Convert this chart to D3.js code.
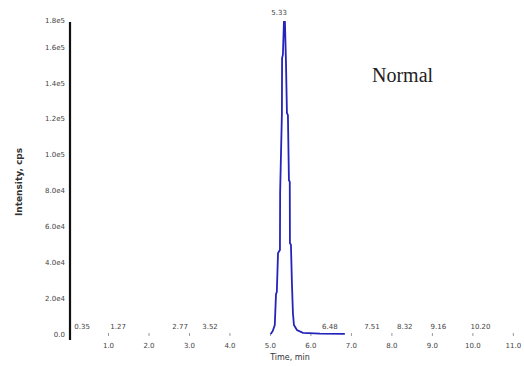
<!DOCTYPE html>
<html lang="en">
  <head>
    <meta charset="utf-8">
<style>
body { margin: 0; background: #fff; }
svg text { font-family: "DejaVu Sans", sans-serif; fill: #444; }
.tick text { font-size: 7px; }
.peaklab { font-size: 7px; }
</style>
</head>
<body>
<script src="https://d3js.org/d3.v7.min.js"></script>
<svg id="chart" width="524" height="366"></svg>
<script>
// chromatogram trace (time in min, intensity in cps)
var times = [5.02, 5.07, 5.12, 5.15, 5.17, 5.20, 5.247, 5.252, 5.296, 5.300, 5.32, 5.346, 5.37,
             5.395, 5.42, 5.444, 5.469, 5.49, 5.494, 5.519, 5.543, 5.568, 5.593, 5.667, 5.815, 6.235, 6.85];
var intensity = [0, 1700, 5000, 22300, 23400, 45100, 46800, 79100, 123200, 153800, 155500, 173900, 173900,
                 152700, 123200, 122000, 85800, 84700, 50700, 49600, 28400, 11700, 5000, 2200, 600, 200, 100];

var yTicks = [0, 2e4, 4e4, 6e4, 8e4, 1e5, 1.2e5, 1.4e5, 1.6e5, 1.75e5];
var yTickLabels = ["0.0", "2.0e4", "4.0e4", "6.0e4", "8.0e4", "1.0e5", "1.2e5", "1.4e5", "1.6e5", "1.8e5"];
var xTicks = [1, 2, 3, 4, 5, 6, 7, 8, 9, 10, 11];

// retention time labels along the baseline
var peakTimes = [0.36, 1.25, 2.78, 3.52, 6.48, 7.52, 8.33, 9.16, 10.20];
var peakLabels = ["0.35", "1.27", "2.77", "3.52", "6.48", "7.51", "8.32", "9.16", "10.20"];
var apexTime = 5.35, apexLabel = "5.33";

var svg = d3.select("#chart");

var x = d3.scaleLinear().domain([0, 11.3]).range([67.5, 525]);
var y = d3.scaleLinear().domain([0, 1.75e5]).range([334, 20]);

// y axis
var yAxis = svg.append("g")
    .attr("transform", "translate(70,0)")
    .call(d3.axisLeft(y).tickValues(yTicks).tickSize(0).tickPadding(5)
      .tickFormat(function(d, i) { return yTickLabels[i]; }));
yAxis.select(".domain").remove();

svg.append("line")
    .attr("x1", 70).attr("x2", 70)
    .attr("y1", y.range()[1] + 2).attr("y2", y(0) + 6)
    .attr("stroke", "#111").attr("stroke-width", 2.2);

// x axis (no baseline line, just ticks and labels)
var xAxis = svg.append("g")
    .attr("transform", "translate(0," + (y(0) - 1) + ")")
    .call(d3.axisBottom(x).tickValues(xTicks).tickSize(3).tickPadding(7)
      .tickFormat(d3.format(".1f")));
xAxis.select(".domain").remove();
xAxis.selectAll(".tick line").attr("stroke", "#999");

// trace
var pts = times.map(function(t, i) { return [t, intensity[i]]; });
var line = d3.line()
    .x(function(d) { return x(d[0]); })
    .y(function(d) { return y(d[1]); });

svg.append("path")
    .datum(pts)
    .attr("d", line)
    .attr("fill", "none")
    .attr("stroke", "#2424bb")
    .attr("stroke-width", 1.8);

// baseline peak labels
svg.selectAll(".peaklab")
  .data(peakTimes)
  .enter().append("text")
    .attr("class", "peaklab")
    .attr("x", function(d) { return x(d); })
    .attr("y", y(0) - 5)
    .attr("text-anchor", "middle")
    .text(function(d, i) { return peakLabels[i]; });

svg.append("text")
    .attr("class", "peaklab")
    .attr("x", x(apexTime) - 5)
    .attr("y", y(1.75e5) - 5)
    .attr("text-anchor", "middle")
    .text(apexLabel);

// titles
svg.append("text")
    .attr("transform", "translate(22,182) rotate(-90)")
    .attr("text-anchor", "middle")
    .style("font-size", "9px")
    .style("font-weight", "bold")
    .style("fill", "#333")
    .text("Intensity, cps");

svg.append("text")
    .attr("x", 290).attr("y", 360)
    .attr("text-anchor", "middle")
    .style("font-size", "8px")
    .style("fill", "#333")
    .text("Time, min");

svg.append("text")
    .attr("x", 372).attr("y", 82)
    .style("font-family", "'Liberation Serif', serif")
    .style("font-size", "20px")
    .style("fill", "#222")
    .text("Normal");
</script>
</body>
</html>
